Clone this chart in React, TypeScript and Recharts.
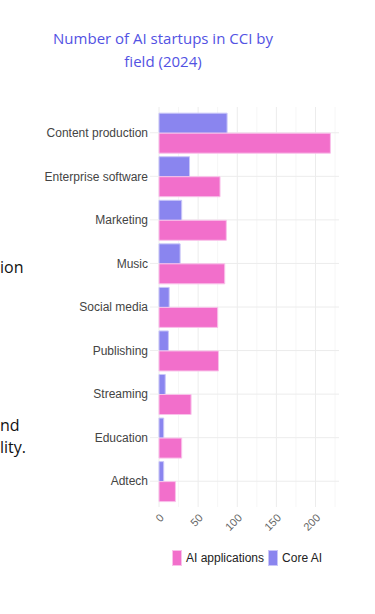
import { Bar, BarChart, CartesianGrid, XAxis, YAxis } from "recharts";

const fields = [
  "Content production",
  "Enterprise software",
  "Marketing",
  "Music",
  "Social media",
  "Publishing",
  "Streaming",
  "Education",
  "Adtech",
];
const coreAI = [87, 39, 29, 27, 13, 12, 8, 6, 6];
const aiApplications = [219, 78, 86, 84, 75, 76, 41, 29, 21];
const xTicks = [0, 25, 50, 75, 100, 125, 150, 175, 200, 225];

const data = fields.map((field, i) => ({
  field,
  core: coreAI[i],
  apps: aiApplications[i],
}));

const PINK = "#f26fcb";
const PURPLE = "#8a85ef";
const X_MAX = 230;
const Y_PAD = 4;

const majorX = xTicks.filter((t) => t % 50 === 0);
const minorX = xTicks.filter((t) => t % 50 !== 0);

// grid helpers: map domain values onto the plot box handed to the generator
const xLines = (vals: number[]) => ({ offset }: any) => vals.map((t) => offset.left + (t / X_MAX) * offset.width);
const yLines = ({ offset }: any) => {
  const band = (offset.height - 2 * Y_PAD) / fields.length;
  return fields.map((_, i) => offset.top + Y_PAD + band * (i + 0.5));
};

export default function App() {
  return (
    <div style={{ position: "absolute", left: 0, top: 0, width: 375, height: 614, background: "#fff", fontFamily: "'Liberation Sans', Arial, sans-serif" }}>
      {/* bits of page text peeking out from behind the chart */}
      <div style={{ position: "absolute", left: 0, top: 256, fontFamily: "'Open Sans', sans-serif", fontSize: 16, color: "#111" }}>ion</div>
      <div style={{ position: "absolute", left: 0, top: 414, fontFamily: "'Open Sans', sans-serif", fontSize: 16, lineHeight: "22px", color: "#111" }}>
        nd
        <br />
        lity.
      </div>

      <div
        style={{
          position: "absolute",
          left: 0,
          top: 27,
          width: 326,
          textAlign: "center",
          fontFamily: "'Open Sans', sans-serif",
          fontSize: 15,
          lineHeight: "23px",
          color: "#5252e3",
        }}
      >
        Number of AI startups in CCI by
        <br />
        field (2024)
      </div>

      <div style={{ position: "absolute", left: 0, top: 0 }}>
        <BarChart
          width={375}
          height={614}
          data={data}
          layout="vertical"
          margin={{ top: 107, right: 36, bottom: 67, left: 0 }}
          barGap={0}
          barCategoryGap="5%"
        >
          <CartesianGrid stroke="#f6f6f6" horizontal={false} verticalCoordinatesGenerator={xLines(minorX)} />
          <CartesianGrid stroke="#ececec" verticalCoordinatesGenerator={xLines(majorX)} horizontalCoordinatesGenerator={yLines} />
          <XAxis
            type="number"
            domain={[0, X_MAX]}
            ticks={xTicks}
            interval={0}
            tickFormatter={(v: number) => (v % 50 === 0 ? String(v) : "")}
            angle={-45}
            textAnchor="end"
            tickLine={false}
            axisLine={false}
            tickSize={0}
            tickMargin={6}
            height={40}
            tick={{ fill: "#666", fontSize: 11 }}
          />
          <YAxis
            type="category"
            dataKey="field"
            width={159}
            axisLine={false}
            tickLine={{ stroke: "#eeeeee" }}
            tickSize={9}
            tickMargin={2}
            padding={{ top: Y_PAD, bottom: Y_PAD }}
            tick={{ fill: "#444", fontSize: 12 }}
          />
          <Bar dataKey="core" name="Core AI" fill={PURPLE} stroke="#c9c6f8" strokeWidth={1} isAnimationActive={false} />
          <Bar dataKey="apps" name="AI applications" fill={PINK} stroke="#f9c2ea" strokeWidth={1} isAnimationActive={false} />
        </BarChart>
      </div>

      <div style={{ position: "absolute", left: 172, top: 550, display: "flex", alignItems: "center", fontSize: 12, color: "#222" }}>
        <span style={{ width: 8, height: 14, background: PINK, border: "1px solid #f9c2ea", marginRight: 4 }} />
        <span style={{ marginRight: 4 }}>AI applications</span>
        <span style={{ width: 8, height: 14, background: PURPLE, border: "1px solid #c9c6f8", marginRight: 4 }} />
        <span>Core AI</span>
      </div>
    </div>
  );
}
